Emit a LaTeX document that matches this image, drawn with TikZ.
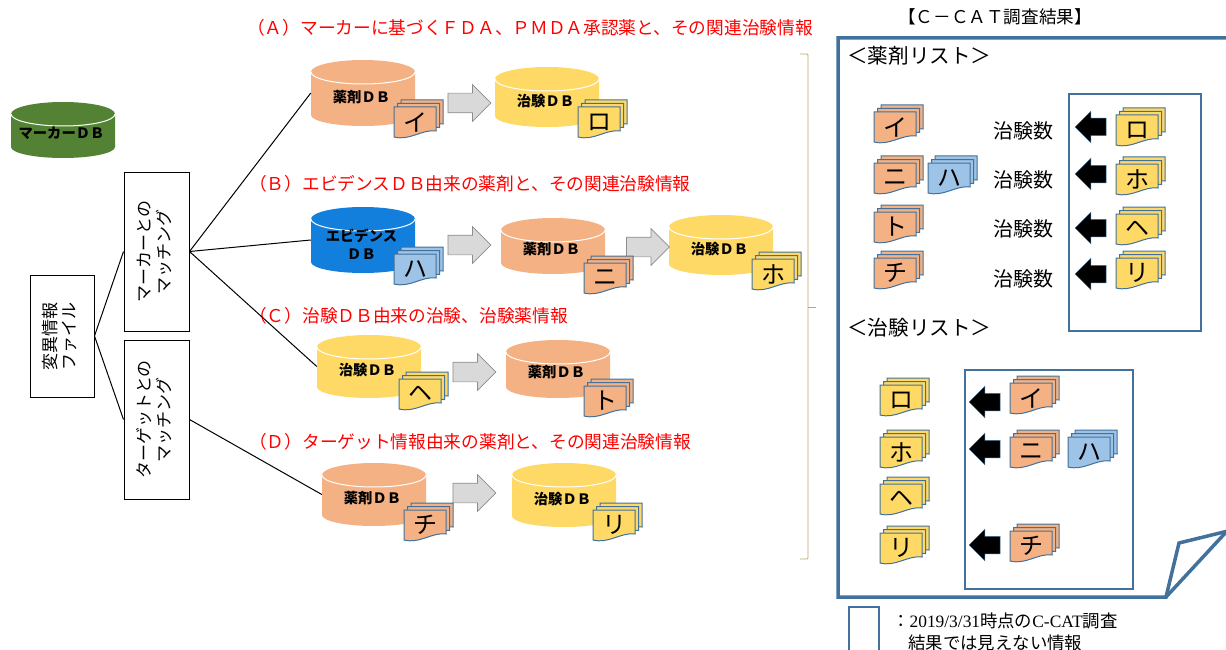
\documentclass[tikz,border=0pt]{standalone}
\usepackage{fontspec}
\setmainfont{Liberation Serif}
\newfontfamily\jp{Noto Sans CJK JP}
\usetikzlibrary{shapes.arrows}
\definecolor{drugcol}{HTML}{F4B183}
\definecolor{trialcol}{HTML}{FFD966}
\definecolor{evidcol}{HTML}{9DC3E6}
\definecolor{linecol}{HTML}{41719C}
\definecolor{markercol}{HTML}{548235}
\definecolor{evidbase}{HTML}{127FDC}
\definecolor{bracketcol}{HTML}{BFA76A}
\tikzset{
	boxnode/.style={draw,line width=1pt,inner sep=0pt,align=center,font=\jp\fontsize{17}{19}\selectfont},
	rednote/.style={anchor=west,inner sep=0pt,text=red,font=\jp\fontsize{17.7}{20}\selectfont},
	listtext/.style={inner sep=0pt,font=\jp\fontsize{20}{24}\selectfont},
	listhead/.style={inner sep=0pt,anchor=west,font=\jp\fontsize{20.6}{24}\selectfont},
	dbtext/.style={inner sep=0pt,font=\jp\bfseries\fontsize{14.3}{18}\selectfont,align=center},
	greyarrow/.style={single arrow,draw=gray!90,line width=.7pt,fill=black!15,inner xsep=0pt,inner ysep=9.5pt,minimum height=43pt,single arrow head extend=8.5pt},
	blackarrow/.style={single arrow,draw=linecol,line width=.5pt,fill=black,inner xsep=0pt,inner ysep=8.5pt,minimum height=31pt,single arrow head extend=7pt,shape border rotate=180},
	panelbox/.style={draw=linecol,line width=1.2pt},
}
% name, x, y (top left), height, colour, label
\newcommand{\dbcyl}[6]{
	\fill[#5](#2,#3+12)--(#2,#3+#4-11)arc[start angle=180,end angle=0,x radius=52,y radius=11]--(#2+104,#3+12)arc[start angle=360,end angle=180,x radius=52,y radius=12]--cycle;
	\draw[white,line width=1pt](#2,#3+12)arc[start angle=180,end angle=0,x radius=52,y radius=12];
	\node[minimum width=104pt,minimum height=#4pt,inner sep=0pt](#1)at(#2+52,#3+#4/2){};
	\node[dbtext](#1t)at(#2+50.5,#3+0.56*#4){#6};
}
% name, x, y (front sheet top left), colour, letter
\newcommand{\docstack}[5]{
	\foreach \d in {7,3.5,0}{
		\filldraw[draw=linecol,line width=1pt,fill=#4,shift={(#2+\d,#3-\d)}](0,0)--(42,0)--(42,24)..controls(28,22)and(16,34)..(0,30)--cycle;
	}
	\node[inner sep=0pt,font=\jp\fontsize{24}{24}\selectfont](#1)at(#2+21,#3+15){#5};
}
\begin{document}
\begin{tikzpicture}[x=1pt,y=-1pt]
	\useasboundingbox(0,0)rectangle(1226,650);
	% left side
	\node[boxnode,minimum width=64pt,minimum height=122pt](varfile)at(62,336){\rotatebox{90}{\begin{tabular}{@{}c@{}}変異情報\\ファイル\end{tabular}}};
	\node[boxnode,minimum width=65pt,minimum height=159pt](markerbox)at(156.5,251.5){\rotatebox{90}{\begin{tabular}{@{}c@{}}マーカーとの\\マッチング\end{tabular}}};
	\node[boxnode,minimum width=65pt,minimum height=159pt](targetbox)at(156.5,419.5){\rotatebox{90}{\begin{tabular}{@{}c@{}}ターゲットとの\\マッチング\end{tabular}}};
	\dbcyl{markerdb}{11}{102}{56}{markercol}{マーカーＤＢ}
	% notes
	\node[rednote](notea)at(247,28){（Ａ）マーカーに基づくＦＤＡ、ＰＭＤＡ承認薬と、その関連治験情報};
	\node[rednote](noteb)at(249,184){（Ｂ）エビデンスＤＢ由来の薬剤と、その関連治験情報};
	\node[rednote](notec)at(249,316){（Ｃ）治験ＤＢ由来の治験、治験薬情報};
	\node[rednote](noted)at(249,442){（Ｄ）ターゲット情報由来の薬剤と、その関連治験情報};
	% row A
	\dbcyl{druga}{311}{60}{66}{drugcol}{薬剤ＤＢ}
	\dbcyl{triala}{495}{67}{60}{trialcol}{治験ＤＢ}
	\node[greyarrow](arra)at(464.5,103){};
	\docstack{doci}{394}{107}{drugcol}{イ}
	\docstack{docro}{578}{107}{trialcol}{ロ}
	% row B
	\dbcyl{evid}{311}{207}{66}{evidbase}{エビデンス\\ＤＢ}
	\dbcyl{drugb}{501}{218}{56}{drugcol}{薬剤ＤＢ}
	\dbcyl{trialb}{669}{215}{60}{trialcol}{治験ＤＢ}
	\node[greyarrow](arrb)at(464.5,245){};
	\node[greyarrow](arrc)at(643,247){};
	\docstack{docha}{394}{254}{evidcol}{ハ}
	\docstack{docni}{584}{263}{drugcol}{ニ}
	\docstack{docho}{752}{259}{trialcol}{ホ}
	% row C
	\dbcyl{trialc}{317}{335}{63}{trialcol}{治験ＤＢ}
	\dbcyl{drugc}{506}{340}{58}{drugcol}{薬剤ＤＢ}
	\node[greyarrow](arrd)at(469.5,372){};
	\docstack{doche}{399}{379}{trialcol}{ヘ}
	\docstack{docto}{584}{386}{drugcol}{ト}
	% row D
	\dbcyl{drugd}{322}{463}{63}{drugcol}{薬剤ＤＢ}
	\dbcyl{triald}{512}{463}{64}{trialcol}{治験ＤＢ}
	\node[greyarrow](arre)at(469.5,493){};
	\docstack{docchi}{404}{510}{drugcol}{チ}
	\docstack{docri}{593}{510}{trialcol}{リ}
	% connectors
	\draw[line width=1pt](varfile.east)--(markerbox.west);
	\draw[line width=1pt](varfile.east)--(targetbox.west);
	\draw[line width=1pt](markerbox.east)--(druga.west);
	\draw[line width=1pt](markerbox.east)--(evid.west);
	\draw[line width=1pt](markerbox.east)--(trialc.west);
	\draw[line width=1pt](targetbox.east)--(drugd.west);
	% bracket
	\draw[draw=bracketcol,line width=.8pt,rounded corners=1pt](800,54)--(808,54)--(808,559)--(800,559);
	\draw[draw=bracketcol,line width=.8pt](808,307)--(816,307);
	% result sheet
	\node[inner sep=0pt,font=\jp\fontsize{17.6}{20}\selectfont](restitle)at(995,17){【Ｃ－ＣＡＴ調査結果】};
	\draw[draw=linecol,line width=3.5pt](1228,38)--(838,38)--(838,597)--(1166,597)--(1179,543)--(1228,531);
	\draw[draw=linecol,line width=3.5pt](1166,597)--(1228,530);
	\node[listhead](druglist)at(847,56){＜薬剤リスト＞};
	\node[listhead](triallist)at(847,328){＜治験リスト＞};
	\draw[panelbox](1069,94)rectangle(1201,331);
	\draw[panelbox](965,370)rectangle(1133,589);
	% drug list
	\docstack{li}{874}{112}{drugcol}{イ}
	\docstack{lni}{874}{163}{drugcol}{ニ}
	\docstack{lha}{928}{163}{evidcol}{ハ}
	\docstack{lto}{874}{212}{drugcol}{ト}
	\docstack{lchi}{874}{258}{drugcol}{チ}
	\docstack{lro}{1116}{115}{trialcol}{ロ}
	\docstack{lho}{1116}{164}{trialcol}{ホ}
	\docstack{lhe}{1116}{214}{trialcol}{ヘ}
	\docstack{lri}{1116}{258}{trialcol}{リ}
	\node[listtext](counta)at(1023,131){治験数};
	\node[listtext](countb)at(1023,180){治験数};
	\node[listtext](countc)at(1023,229){治験数};
	\node[listtext](countd)at(1023,279){治験数};
	\node[blackarrow](ba)at(1095,127){};
	\node[blackarrow](bb)at(1095,174){};
	\node[blackarrow](bc)at(1095,228){};
	\node[blackarrow](bd)at(1095,274){};
	% trial list
	\docstack{tro}{880}{385}{trialcol}{ロ}
	\docstack{tho}{880}{437}{trialcol}{ホ}
	\docstack{the}{880}{484}{trialcol}{ヘ}
	\docstack{tri}{880}{533}{trialcol}{リ}
	\docstack{ti}{1010}{383}{drugcol}{イ}
	\docstack{tni}{1010}{437}{drugcol}{ニ}
	\docstack{tha}{1068}{437}{evidcol}{ハ}
	\docstack{tchi}{1010}{531}{drugcol}{チ}
	\node[blackarrow](be)at(989,402){};
	\node[blackarrow](bf)at(989,449){};
	\node[blackarrow](bg)at(989,545){};
	% legend
	\draw[panelbox](849,607)rectangle(879,651);
	\node[inner sep=0pt,anchor=north west,align=left,font=\fontsize{17.4}{22}\selectfont](legend)at(892,613){{\jp ：}2019/3/31{\jp 時点の}C-CAT{\jp 調査}\\\hspace*{16pt}{\jp 結果では見えない情報}};
\end{tikzpicture}
\end{document}
